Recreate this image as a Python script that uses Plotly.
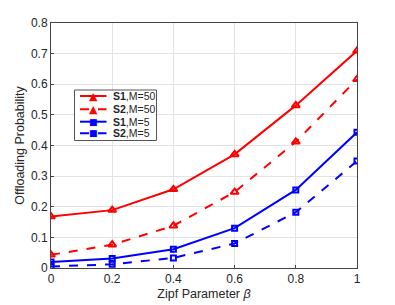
import plotly.graph_objects as go

beta = [0, 0.2, 0.4, 0.6, 0.8, 1.0]
s1_m50 = [0.168, 0.189, 0.257, 0.371, 0.531, 0.709]
s2_m50 = [0.043, 0.076, 0.138, 0.248, 0.412, 0.616]
s1_m5 = [0.020, 0.031, 0.061, 0.130, 0.255, 0.443]
s2_m5 = [0.005, 0.012, 0.033, 0.080, 0.182, 0.349]

x_ticks = [0, 0.2, 0.4, 0.6, 0.8, 1]
x_labels = ["0", "0.2", "0.4", "0.6", "0.8", "1"]
y_ticks = [0, 0.1, 0.2, 0.3, 0.4, 0.5, 0.6, 0.7, 0.8]
y_labels = ["0", "0.1", "0.2", "0.3", "0.4", "0.5", "0.6", "0.7", "0.8"]

series = [
    ("<b>S1</b>,M=50", s1_m50, "red", "solid", "triangle-up-open", "▲"),
    ("<b>S2</b>,M=50", s2_m50, "red", "dash", "triangle-up-open", "▲"),
    ("<b>S1</b>,M=5", s1_m5, "blue", "solid", "square-open", "■"),
    ("<b>S2</b>,M=5", s2_m5, "blue", "dash", "square-open", "■"),
]

W, H = 395, 305
L, R, T, B = 51, 38, 23, 37
PW, PH = W - L - R, H - T - B


def px(xp):
    return (xp - L) / PW


def py(yp):
    return (H - B - yp) / PH


fig = go.Figure()
for name, vals, color, dash, sym, glyph in series:
    is_tri = sym.startswith("triangle")
    fig.add_trace(go.Scatter(
        x=beta, y=vals, name=name, mode="lines+markers", showlegend=False,
        line=dict(color=color, width=2, dash=dash),
        marker=dict(symbol=sym, size=7 if is_tri else 5, color=color,
                    line=dict(color=color, width=2)),
    ))

# custom compact legend (box, line samples, glyphs, labels)
shapes = [dict(type="rect", xref="paper", yref="paper",
               x0=px(74.5), x1=px(156.5), y0=py(140.5), y1=py(90),
               line=dict(color="#555555", width=1), fillcolor="white", layer="above")]
annotations = []
row_y = [96, 109.3, 121.7, 133.3]
for (name, vals, color, dash, sym, glyph), ry in zip(series, row_y):
    shapes.append(dict(type="line", xref="paper", yref="paper",
                       x0=px(80), x1=px(106.5), y0=py(ry), y1=py(ry),
                       line=dict(color=color, width=2, dash="dash" if dash == "dash" else "solid"),
                       layer="above"))
    annotations.append(dict(xref="paper", yref="paper", x=px(93.3), y=py(ry),
                            text=glyph, showarrow=False, xanchor="center", yanchor="middle",
                            font=dict(size=11 if glyph == "▲" else 9, color=color,
                                      family="DejaVu Sans")))
    annotations.append(dict(xref="paper", yref="paper", x=px(110.5), y=py(ry),
                            text=name, showarrow=False, xanchor="left", yanchor="middle",
                            font=dict(size=10.5, color="#262626",
                                      family="Liberation Sans, Arial")))

axis_common = dict(
    showgrid=True, gridcolor="#e3e3e3", gridwidth=1,
    showline=True, linecolor="#444444", linewidth=1, mirror=True,
    ticks="inside", ticklen=3, tickcolor="#444444",
    tickfont=dict(family="Liberation Sans, Arial", size=12, color="#262626"),
    zeroline=False, automargin=False,
)

fig.update_layout(
    width=W, height=H,
    margin=dict(l=L, r=R, t=T, b=B),
    paper_bgcolor="white", plot_bgcolor="white",
    font=dict(family="Liberation Sans, Arial", color="#262626"),
    xaxis=dict(range=[0, 1], tickvals=x_ticks, ticktext=x_labels,
               title=dict(text="Zipf Parameter <i>β</i>", font=dict(size=12.5), standoff=3),
               **axis_common),
    yaxis=dict(range=[0, 0.8], tickvals=y_ticks, ticktext=y_labels,
               title=dict(text="Offloading Probability", font=dict(size=12.5), standoff=3),
               **axis_common),
    shapes=shapes,
    annotations=annotations,
    showlegend=False,
)

fig.write_html("out.html", config={"displayModeBar": False},
               post_script="document.body.style.margin='0';")
